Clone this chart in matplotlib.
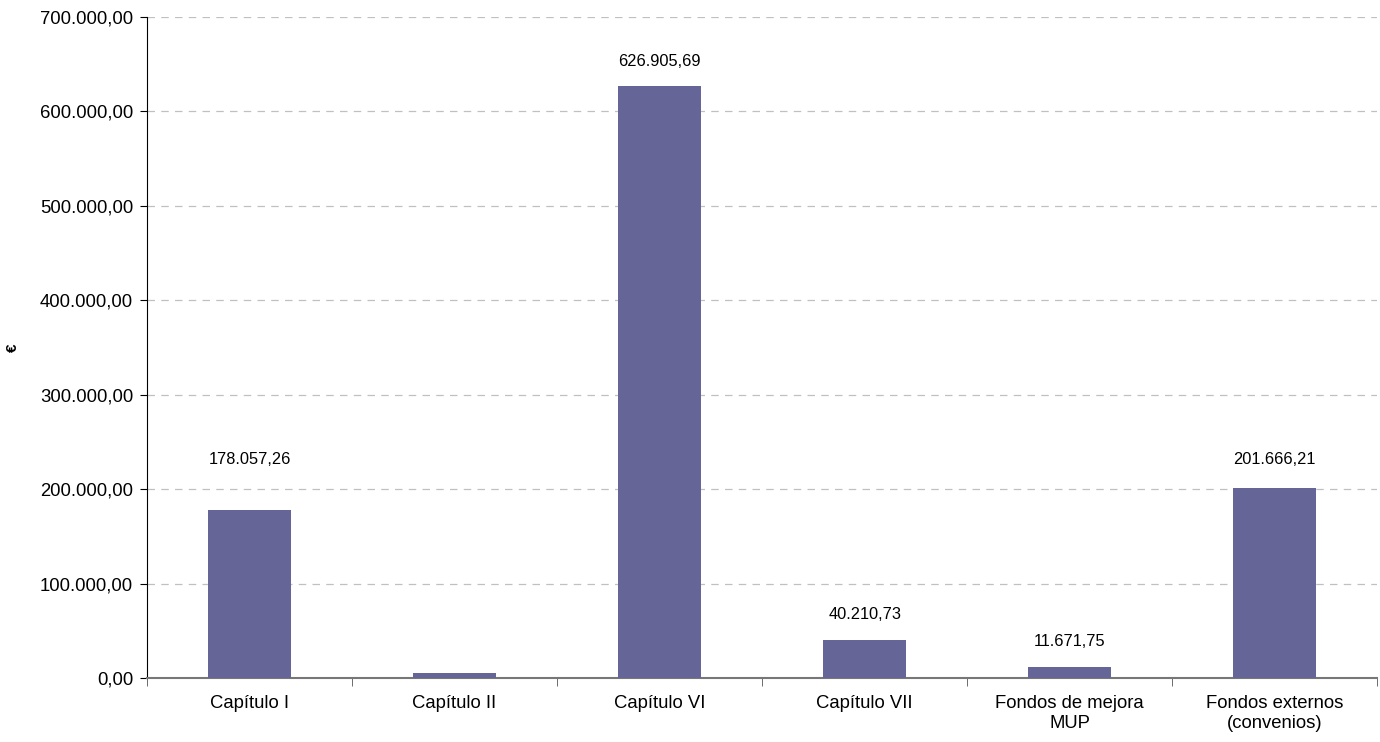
import numpy as np
import matplotlib
matplotlib.use('Agg')
import matplotlib.pyplot as plt
from matplotlib.ticker import FuncFormatter

plt.rcParams['font.family'] = ['Liberation Sans', 'DejaVu Sans']

categories = ['Capítulo I', 'Capítulo II', 'Capítulo VI', 'Capítulo VII',
              'Fondos de mejora\nMUP', 'Fondos externos\n(convenios)']
values = [178057.26, 4800.0, 626905.69, 40210.73, 11671.75, 201666.21]
show_label = [True, False, True, True, True, True]
label_offsets = [43, 0, 17, 18, 18, 21]  # px above bar top


def es_fmt(v, pos=None):
    s = '{:,.2f}'.format(v)
    return s.replace(',', 'X').replace('.', ',').replace('X', '.')


fig = plt.figure(figsize=(13.8, 7.42), dpi=100)
ax = fig.add_axes([0.1065, 0.0863, 0.8915, 0.8907])

ind = np.arange(len(categories))
bars = ax.bar(ind, values, 0.405, color='#656598', zorder=3)

ax.set_xlim(-0.5, len(categories) - 0.5)
ax.set_ylim(0, 700000)
ax.set_yticks(np.arange(0, 700001, 100000))
ax.yaxis.set_major_formatter(FuncFormatter(es_fmt))
ax.set_xticks(ind)
ax.set_xticklabels(categories, linespacing=1.25)
ax.set_xticks(np.arange(-0.5, len(categories), 1), minor=True)
ax.tick_params(axis='x', which='major', length=0, pad=12, labelsize=13.3)
ax.tick_params(axis='x', which='minor', length=6, color='#555555')
ax.tick_params(axis='y', length=5, pad=5, labelsize=13.3, color='black')

ax.grid(axis='y', linestyle=(0, (6, 5)), color='#c0c0c0', linewidth=0.9, zorder=0)
for side in ['top', 'right']:
    ax.spines[side].set_visible(False)
ax.spines['bottom'].set_color('#777777')
ax.spines['bottom'].set_linewidth(1.5)
ax.spines['left'].set_color('black')

ax.set_ylabel('€', fontsize=11, fontweight='bold')
ax.yaxis.set_label_coords(-0.103, 0.5)

for rect, v, show, off in zip(bars, values, show_label, label_offsets):
    if not show:
        continue
    ax.annotate(es_fmt(v), (rect.get_x() + rect.get_width() / 2, v),
                xytext=(0, off * 0.72), textcoords='offset points',
                ha='center', va='bottom', fontsize=11.8)

fig.savefig('out.png', dpi=100)
